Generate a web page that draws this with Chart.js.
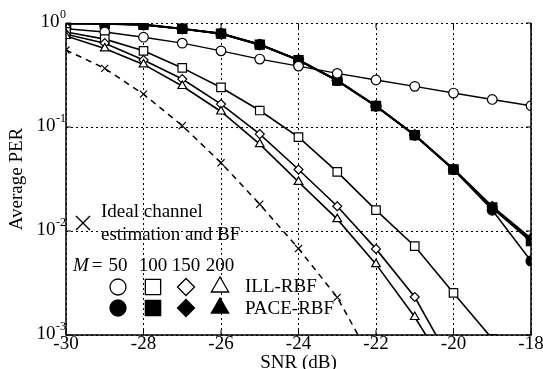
<!DOCTYPE html>
<html>
<head>
<meta charset="utf-8">
<script src="https://cdn.jsdelivr.net/npm/chart.js@4/dist/chart.umd.min.js"></script>
<style>
html,body{margin:0;padding:0;background:#fff;}
#wrap{position:relative;width:543px;height:369px;}
</style>
</head>
<body>
<div id="wrap"><canvas id="c" width="543" height="369"></canvas></div>
<script>
const snr = [-30, -29, -28, -27, -26, -25, -24, -23, -22, -21, -20, -19, -18];
const xTicks = [-30, -28, -26, -24, -22, -20, -18];
const yTicks = [1, 0.1, 0.01, 0.001];
const yTickExp = ['0', '-1', '-2', '-3'];

const ill50  = [0.88, 0.82, 0.73, 0.64, 0.54, 0.45, 0.385, 0.328, 0.283, 0.246, 0.212, 0.184, 0.16];
const ill100 = [0.82, 0.70, 0.54, 0.37, 0.24, 0.144, 0.080, 0.037, 0.0159, 0.00714, 0.00254, 0.00092, null];
const ill150 = [0.78, 0.64, 0.44, 0.289, 0.166, 0.0855, 0.039, 0.0173, 0.00673, 0.00232, 0.0005, null, null];
const ill200 = [0.75, 0.57, 0.40, 0.248, 0.141, 0.0685, 0.0297, 0.013, 0.0048, 0.00149, 0.00037, null, null];

const pace50  = [0.99, 0.98, 0.96, 0.88, 0.79, 0.62, 0.44, 0.28, 0.159, 0.0836, 0.039, 0.0159, 0.00515];
const pace100 = [0.99, 0.985, 0.963, 0.88, 0.79, 0.62, 0.44, 0.28, 0.159, 0.0836, 0.039, 0.0168, 0.0080];
const pace150 = [0.99, 0.985, 0.963, 0.88, 0.79, 0.62, 0.44, 0.28, 0.159, 0.0836, 0.0395, 0.0172, 0.0085];
const pace200 = [0.99, 0.985, 0.963, 0.88, 0.79, 0.62, 0.44, 0.28, 0.159, 0.0836, 0.0392, 0.0170, 0.0082];

const ideal = [0.55, 0.366, 0.207, 0.103, 0.0453, 0.0181, 0.00678, 0.0023, 0.00049, null, null, null, null];

const FONT = '"Liberation Serif", serif';
const FS = 19;

function pts(arr){ return arr.map((v,i)=>({x:snr[i], y:v})); }

function ds(label, data, style, radius, filled, lw){
  return {
    label, data: pts(data), pointStyle: style, pointRadius: radius,
    pointBackgroundColor: filled ? '#000' : '#fff', pointBorderColor:'#000',
    pointBorderWidth: 1.2, borderColor:'#000', borderWidth: lw,
    backgroundColor:'#000', showLine:true, spanGaps:false, tension:0
  };
}

const datasets = [
  {label:'Ideal', data: pts(ideal), pointStyle:'crossRot', pointRadius:5, pointBorderWidth:1.2,
   pointBorderColor:'#000', borderColor:'#000', borderWidth:1.5, borderDash:[6,5], showLine:true, tension:0},
  ds('ILL-RBF M=200', ill200, 'triangle', 5, false, 1.6),
  ds('ILL-RBF M=150', ill150, 'rectRot', 4.5, false, 1.6),
  ds('ILL-RBF M=100', ill100, 'rect', 6, false, 1.6),
  ds('ILL-RBF M=50', ill50, 'circle', 4.8, false, 1.4),
  ds('PACE-RBF M=50', pace50, 'circle', 5, true, 1.6),
  ds('PACE-RBF M=200', pace200, 'triangle', 5, true, 1.8),
  ds('PACE-RBF M=150', pace150, 'rectRot', 5, true, 1.8),
  ds('PACE-RBF M=100', pace100, 'rect', 6.5, true, 2.2),
];

function drawMarker(ctx, style, x, y, r, filled){
  ctx.save();
  ctx.lineWidth = 1.3;
  ctx.strokeStyle = '#000';
  ctx.fillStyle = filled ? '#000' : '#fff';
  Chart.helpers.drawPoint(ctx, {pointStyle: style, rotation: 0, radius: r, borderWidth: 1.3}, x, y);
  ctx.restore();
}

const labelsPlugin = {
  id: 'labels',
  afterDatasetsDraw(chart){
    const ctx = chart.ctx;
    const a = chart.chartArea;
    const xs = chart.scales.x, ys = chart.scales.y;
    ctx.save();
    // frame
    ctx.strokeStyle = '#000';
    ctx.setLineDash([]);
    ctx.lineWidth = 1.5;
    ctx.beginPath();
    ctx.moveTo(a.left, a.top); ctx.lineTo(a.left, a.bottom); ctx.lineTo(a.right, a.bottom); ctx.lineTo(a.right, a.top);
    ctx.stroke();
    // tick marks
    ctx.lineWidth = 1;
    xTicks.forEach(v=>{
      const px = xs.getPixelForValue(v);
      ctx.beginPath(); ctx.moveTo(px, a.bottom); ctx.lineTo(px, a.bottom-5); ctx.stroke();
      ctx.beginPath(); ctx.moveTo(px, a.top); ctx.lineTo(px, a.top+5); ctx.stroke();
    });
    yTicks.forEach(v=>{
      const py = ys.getPixelForValue(v);
      ctx.beginPath(); ctx.moveTo(a.left, py); ctx.lineTo(a.left+5, py); ctx.stroke();
      ctx.beginPath(); ctx.moveTo(a.right, py); ctx.lineTo(a.right-5, py); ctx.stroke();
    });
    ctx.fillStyle = '#000';
    // x tick labels
    ctx.font = FS + 'px ' + FONT;
    ctx.textAlign = 'center'; ctx.textBaseline = 'middle';
    xTicks.forEach(v=>{
      ctx.fillText(String(v), xs.getPixelForValue(v), 344);
    });
    // y tick labels
    yTicks.forEach((v,i)=>{
      const py = ys.getPixelForValue(v);
      ctx.font = '12px ' + FONT;
      const ew = ctx.measureText(yTickExp[i]).width;
      ctx.textAlign = 'right'; ctx.textBaseline = 'middle';
      ctx.fillText(yTickExp[i], 66, py - 8);
      ctx.font = FS + 'px ' + FONT;
      ctx.fillText('10', 66 - ew - 0.5, py - 1);
    });
    // axis titles
    ctx.font = FS + 'px ' + FONT;
    ctx.textAlign = 'center'; ctx.textBaseline = 'middle';
    ctx.fillText('SNR (dB)', (a.left + a.right)/2, 363);
    ctx.save();
    ctx.translate(17, (a.top + a.bottom)/2);
    ctx.rotate(-Math.PI/2);
    ctx.fillText('Average PER', 0, 0);
    ctx.restore();
    // legend
    ctx.save();
    ctx.lineWidth = 1.4; ctx.strokeStyle = '#000';
    ctx.beginPath();
    ctx.moveTo(76, 216); ctx.lineTo(90, 230); ctx.moveTo(90, 216); ctx.lineTo(76, 230);
    ctx.stroke();
    ctx.restore();
    ctx.textAlign = 'left'; ctx.textBaseline = 'middle';
    ctx.font = FS + 'px ' + FONT;
    ctx.fillText('Ideal channel', 101, 212);
    ctx.fillText('estimation and BF', 101, 235);
    ctx.font = 'italic ' + FS + 'px ' + FONT;
    ctx.fillText('M', 73, 266);
    ctx.font = FS + 'px ' + FONT;
    ctx.textAlign = 'center';
    ctx.fillText('=', 97, 266);
    const mx = [118, 153, 186, 220];
    ['50','100','150','200'].forEach((t,i)=>ctx.fillText(t, mx[i], 266));
    const styles = [['circle',8],['rect',10.8],['rectRot',8.5],['triangle',10]];
    styles.forEach((s,i)=>{
      drawMarker(ctx, s[0], mx[i], 287, s[1], false);
      drawMarker(ctx, s[0], mx[i], 308, s[1], true);
    });
    ctx.textAlign = 'left';
    ctx.fillText('ILL-RBF', 245, 287);
    ctx.fillText('PACE-RBF', 245, 309);
    ctx.restore();
  }
};

new Chart(document.getElementById('c'), {
  type: 'scatter',
  data: { datasets },
  options: {
    responsive: false,
    animation: false,
    layout: { padding: { left: 66, right: 12, top: 23, bottom: 34 } },
    plugins: { legend: { display: false }, tooltip: { enabled: false } },
    scales: {
      x: {
        type: 'linear', min: -30, max: -18,
        afterBuildTicks: s => { s.ticks = xTicks.map(v=>({value:v})); },
        ticks: { display: false },
        grid: { color: '#000', lineWidth: 1, drawTicks: false },
        border: { display: false, dash: [2, 3] }
      },
      y: {
        type: 'logarithmic', min: 0.001, max: 1,
        afterBuildTicks: s => { s.ticks = yTicks.map(v=>({value:v})); },
        ticks: { display: false },
        grid: { color: '#000', lineWidth: 1, drawTicks: false },
        border: { display: false, dash: [2, 3] }
      }
    }
  },
  plugins: [labelsPlugin]
});
</script>
</body>
</html>
